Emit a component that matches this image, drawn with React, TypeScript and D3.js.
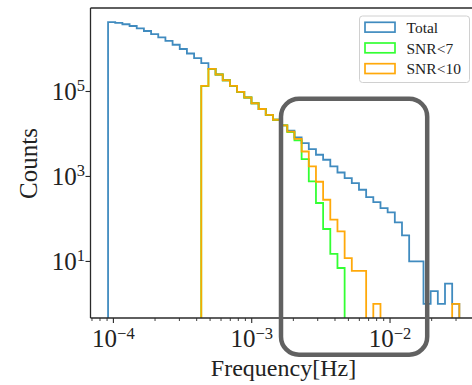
import React from "react";
import * as d3 from "d3";

// Histogram binning (log-spaced bins between the lowest and highest frequency)
const binCount = 49;
const freqMin = 9.15e-5;
const freqMax = 0.0317;

// Counts per bin
const totalCounts = [
  4300000, 4110000, 3830000, 3480000, 3070000, 2650000, 2250000, 1880000, 1550000, 1260000,
  1000000, 784000, 608000, 466000, 342000, 251000, 184000, 135000, 98400, 72200,
  52800, 38700, 28300, 21600, 16000, 11900, 8360, 6110, 4410, 3240,
  2470, 1720, 1240, 917, 699, 486, 327, 250, 179, 142,
  83, 41, 10, 10, 1, 2, 1, 3, 1,
];
const snr7Counts = [
  0, 0, 0, 0, 0, 0, 0, 0, 0, 0,
  0, 0, 0, 134000, 342000, 251000, 184000, 135000, 98400, 72200,
  52800, 38700, 28300, 21600, 16000, 11000, 7100, 2570, 762, 237,
  58, 15, 7, 0, 0, 0, 0, 0, 0, 0,
  0, 0, 0, 0, 0, 0, 0, 0, 0,
];
const snr10Counts = [
  0, 0, 0, 0, 0, 0, 0, 0, 0, 0,
  0, 0, 0, 136000, 342000, 251000, 184000, 135000, 98400, 72200,
  52800, 38700, 28300, 21600, 16000, 11300, 7700, 3870, 1720, 750,
  283, 96, 51, 12, 6, 6, 0, 1, 0, 0,
  0, 0, 0, 0, 0, 0, 0, 0, 1,
];

const seriesNames = ["Total", "SNR<7", "SNR<10"];
const seriesColors = ["#1f77b4", "#00ff00", "#ffa500"];
const seriesOpacity = [0.85, 0.8, 0.96];

const xTickExponents = [-4, -3, -2];
const yTickExponents = [1, 3, 5];

const W = 472;
const H = 385;
const plot = { left: 90.5, right: 476.9, top: 8, bottom: 318 };
const serif = "'Liberation Serif', 'DejaVu Serif', serif";

export default function App() {
  const lx0 = Math.log10(freqMin);
  const lx1 = Math.log10(freqMax);
  const edges = d3.range(binCount + 1).map((i) => 10 ** (lx0 + (i * (lx1 - lx0)) / binCount));

  // 5% margins in log space, like matplotlib's autoscaling
  const xPad = 0.05 * (lx1 - lx0);
  const x = d3
    .scaleLog()
    .domain([10 ** (lx0 - xPad), 10 ** (lx1 + xPad)])
    .range([plot.left, plot.right]);

  const allPositive = [...totalCounts, ...snr7Counts, ...snr10Counts].filter((v) => v > 0);
  const ly0 = Math.log10(d3.min(allPositive) as number);
  const ly1 = Math.log10(d3.max(allPositive) as number);
  const yPad = 0.05 * (ly1 - ly0);
  const y = d3
    .scaleLog()
    .domain([10 ** (ly0 - yPad), 10 ** (ly1 + yPad)])
    .range([plot.bottom, plot.top]);

  const yOf = (v: number) => (v > 0 ? y(v) : plot.bottom + 40);

  const stepPath = (counts: number[]) => {
    const pts: [number, number][] = [[x(edges[0]), yOf(0)]];
    counts.forEach((c, i) => {
      pts.push([x(edges[i]), yOf(c)]);
      pts.push([x(edges[i + 1]), yOf(c)]);
    });
    pts.push([x(edges[counts.length]), yOf(0)]);
    return d3.line()(pts) as string;
  };

  const series = [totalCounts, snr7Counts, snr10Counts];

  // minor ticks on the frequency axis
  const xMinor: number[] = [];
  for (let e = -5; e <= -2; e++) {
    for (let m = 2; m <= 9; m++) {
      const v = m * 10 ** e;
      const px = x(v);
      if (px >= plot.left && px <= W) xMinor.push(v);
    }
  }

  const legendX = 359.5;
  const legendY = 16;

  return (
    <div style={{ position: "fixed", left: 0, top: 0 }}>
      <svg width={W} height={H} viewBox={`0 0 ${W} ${H}`} style={{ display: "block", background: "#fff" }}>
        <defs>
          <clipPath id="plotClip">
            <rect x={plot.left} y={plot.top} width={plot.right - plot.left} height={plot.bottom - plot.top} />
          </clipPath>
        </defs>

        <g clipPath="url(#plotClip)">
          {series.map((counts, i) => (
            <path
              key={seriesNames[i]}
              d={stepPath(counts)}
              fill="none"
              stroke={seriesColors[i]}
              strokeOpacity={seriesOpacity[i]}
              strokeWidth={1.8}
              strokeLinejoin="miter"
            />
          ))}
        </g>

        {/* spines */}
        <g stroke="#2a2a2a" strokeWidth={1.3} fill="none">
          <line x1={plot.left} y1={plot.top} x2={plot.right} y2={plot.top} />
          <line x1={plot.left} y1={plot.top} x2={plot.left} y2={plot.bottom} />
          <line x1={plot.left} y1={plot.bottom} x2={plot.right} y2={plot.bottom} />
          <line x1={plot.right} y1={plot.top} x2={plot.right} y2={plot.bottom} />
        </g>

        {/* x axis ticks */}
        <g stroke="#2a2a2a" strokeWidth={1.1}>
          {xTickExponents.map((e) => (
            <line key={e} x1={x(10 ** e)} x2={x(10 ** e)} y1={plot.bottom} y2={plot.bottom + 5} />
          ))}
          {xMinor.map((v, i) => (
            <line key={i} x1={x(v)} x2={x(v)} y1={plot.bottom} y2={plot.bottom + 3} strokeWidth={0.9} />
          ))}
        </g>
        <g fontFamily={serif} fill="#222">
          {xTickExponents.map((e) => (
            <text key={e} x={x(10 ** e)} y={346.5} textAnchor="middle" fontSize={25}>
              10
              <tspan fontSize={16.5} dy={-8}>{`\u2212${-e}`}</tspan>
            </text>
          ))}
        </g>

        {/* y axis ticks */}
        <g stroke="#2a2a2a" strokeWidth={1.1}>
          {yTickExponents.map((e) => (
            <line key={e} x1={plot.left - 5} x2={plot.left} y1={y(10 ** e)} y2={y(10 ** e)} />
          ))}
        </g>
        <g fontFamily={serif} fill="#222">
          {yTickExponents.map((e) => (
            <text key={e} x={85} y={y(10 ** e) + 8.5} textAnchor="end" fontSize={25}>
              10
              <tspan fontSize={16.5} dy={-9}>{e}</tspan>
            </text>
          ))}
        </g>

        {/* axis titles */}
        <text
          transform="translate(37,163.5) rotate(-90)"
          textAnchor="middle"
          fontFamily={serif}
          fontSize={25}
          fill="#222"
        >
          Counts
        </text>
        <text x={283.5} y={376} textAnchor="middle" fontFamily={serif} fontSize={24} fill="#222">
          Frequency[Hz]
        </text>

        {/* legend */}
        <g>
          <rect
            x={legendX}
            y={legendY}
            width={110}
            height={66.5}
            rx={3}
            fill="#fff"
            fillOpacity={0.8}
            stroke="#d0d0d0"
            strokeWidth={1}
          />
          {seriesNames.map((name, i) => (
            <g key={name} transform={`translate(0, ${i * 20.7})`}>
              <rect
                x={365}
                y={22.3}
                width={30}
                height={9.8}
                fill="none"
                stroke={seriesColors[i]}
                strokeOpacity={seriesOpacity[i]}
                strokeWidth={1.7}
              />
              <text x={406.5} y={33} fontFamily={serif} fontSize={15.5} fill="#222">
                {name}
              </text>
            </g>
          ))}
        </g>

        {/* highlighted region */}
        <rect
          x={281}
          y={98.7}
          width={146.2}
          height={256}
          rx={18}
          ry={18}
          fill="none"
          stroke="#616161"
          strokeWidth={4.5}
        />
      </svg>
    </div>
  );
}
